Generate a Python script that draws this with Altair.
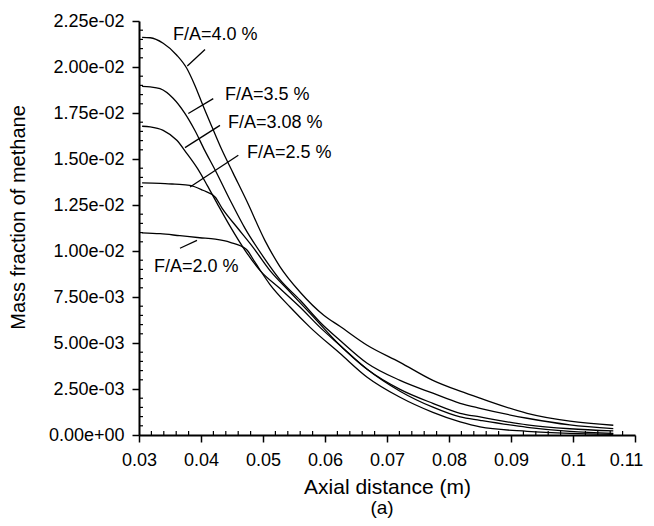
import altair as alt
import pandas as pd

# ---- curve data ----
x_40 = [0.0305, 0.0318, 0.0339, 0.0361, 0.0377, 0.0390, 0.0403, 0.0418, 0.0434, 0.0452, 0.0474, 0.0503,
        0.0527, 0.0560, 0.0598, 0.0624, 0.0668, 0.0721, 0.0774, 0.0818, 0.0850, 0.0926, 0.0995, 0.1065]
y_40 = [0.02161, 0.02159, 0.02129, 0.02064, 0.01993, 0.01901, 0.01792, 0.01672, 0.01547, 0.01422, 0.01270, 0.01058,
        0.00917, 0.00776, 0.00651, 0.00591, 0.00488, 0.00395, 0.00297, 0.00238, 0.00200, 0.00118, 0.00075, 0.00053]

x_35 = [0.0305, 0.0318, 0.0334, 0.0355, 0.0374, 0.0390, 0.0406, 0.0423, 0.0447, 0.0471, 0.0500, 0.0527,
        0.0560, 0.0592, 0.0624, 0.0668, 0.0721, 0.0774, 0.0818, 0.0850, 0.0926, 0.0995, 0.1065]
y_35 = [0.01895, 0.01892, 0.01882, 0.01830, 0.01748, 0.01656, 0.01547, 0.01439, 0.01276, 0.01123, 0.00971, 0.00846,
        0.00732, 0.00613, 0.00515, 0.00390, 0.00297, 0.00227, 0.00172, 0.00145, 0.00091, 0.00055, 0.00035]

x_308 = [0.0305, 0.0318, 0.0339, 0.0361, 0.0377, 0.0394, 0.0410, 0.0426, 0.0447, 0.0471, 0.0495, 0.0527,
         0.0560, 0.0592, 0.0624, 0.0668, 0.0721, 0.0774, 0.0818, 0.0850, 0.0926, 0.0995, 0.1065]
y_308 = [0.01678, 0.01675, 0.01656, 0.01602, 0.01531, 0.01450, 0.01357, 0.01259, 0.01134, 0.01004, 0.00895, 0.00797,
         0.00694, 0.00585, 0.00488, 0.00357, 0.00248, 0.00172, 0.00118, 0.00098, 0.00055, 0.00034, 0.00022]

x_25 = [0.0305, 0.0334, 0.0358, 0.0382, 0.0403, 0.0423, 0.0435, 0.0458, 0.0484, 0.0511, 0.0544, 0.0576,
        0.0624, 0.0668, 0.0721, 0.0774, 0.0818, 0.0850, 0.0926, 0.0995, 0.1065]
y_25 = [0.01370, 0.01368, 0.01363, 0.01357, 0.01330, 0.01292, 0.01227, 0.01129, 0.01020, 0.00895, 0.00776, 0.00661,
        0.00488, 0.00357, 0.00238, 0.00151, 0.00098, 0.00080, 0.00042, 0.00020, 0.00009]

x_20 = [0.0305, 0.0334, 0.0366, 0.0398, 0.0423, 0.0447, 0.0473, 0.0487, 0.0511, 0.0544, 0.0576, 0.0624,
        0.0668, 0.0721, 0.0774, 0.0818, 0.0850, 0.0926, 0.0995, 0.1065]
y_20 = [0.01099, 0.01094, 0.01083, 0.01072, 0.01064, 0.01047, 0.01009, 0.00939, 0.00819, 0.00694, 0.00585, 0.00444,
        0.00314, 0.00205, 0.00123, 0.00071, 0.00044, 0.00020, 0.00009, 0.00004]

# ---- annotations ----
label_text = ["F/A=4.0 %", "F/A=3.5 %", "F/A=3.08 %", "F/A=2.5 %", "F/A=2.0 %"]
label_x = [0.03548, 0.04387, 0.04435, 0.04742, 0.03242]
label_y = [0.02175, 0.01846, 0.01697, 0.01534, 0.00911]
leader_x1 = [0.03779, 0.03795, 0.03742, 0.03823, 0.03661]
leader_y1 = [0.02005, 0.01747, 0.01562, 0.01348, 0.01015]
leader_x2 = [0.04065, 0.04198, 0.04306, 0.04602, 0.03935]
leader_y2 = [0.02095, 0.01828, 0.01683, 0.01520, 0.01058]

x_ticks = [0.03, 0.04, 0.05, 0.06, 0.07, 0.08, 0.09, 0.10, 0.11]
y_ticks = [0.0, 0.0025, 0.005, 0.0075, 0.01, 0.0125, 0.015, 0.0175, 0.02, 0.0225]
x_minor = [round(0.03 + 0.002 * i, 4) for i in range(41) if i % 5 != 0]
y_minor = [round(0.0005 * i, 5) for i in range(46) if i % 5 != 0]

W, H = 496, 414

rows = []
for name, xs, ys in [("4.0", x_40, y_40), ("3.5", x_35, y_35), ("3.08", x_308, y_308),
                     ("2.5", x_25, y_25), ("2.0", x_20, y_20)]:
    for a, b in zip(xs, ys):
        rows.append({"series": name, "x": a, "y": b})
curves = pd.DataFrame(rows)

labels = pd.DataFrame({"text": label_text, "x": label_x, "y": label_y})
leaders = pd.DataFrame({"x": leader_x1, "y": leader_y1, "x2": leader_x2, "y2": leader_y2})
xminor_df = pd.DataFrame({"x": x_minor})
yminor_df = pd.DataFrame({"y": y_minor})

FONT = "Liberation Sans"

xscale = alt.Scale(domain=[0.03, 0.11], nice=False, zero=False)
yscale = alt.Scale(domain=[0, 0.0225], nice=False, zero=False)

xaxis = alt.Axis(values=x_ticks, format=".2~f", title="Axial distance (m)", grid=False,
                 labelFontSize=18, titleFontSize=21, titleFontWeight="normal", labelFont=FONT,
                 titleFont=FONT, labelColor="black", titleColor="black", domainColor="black",
                 domainWidth=2, tickColor="black", tickWidth=1.5, tickSize=7, labelPadding=9,
                 labelOffset={"condition": {"test": "datum.value > 0.105", "value": -9}, "value": 0},
                 titlePadding=7, labelFlush=False)
yaxis = alt.Axis(values=y_ticks,
                 labelExpr="replace(replace(format(datum.value, '.2e'), 'e-', 'e-0'), 'e+', 'e+0')",
                 title="Mass fraction of methane", grid=False,
                 labelFontSize=18, titleFontSize=20, titleFontWeight="normal", labelFont=FONT,
                 titleFont=FONT, labelColor="black", titleColor="black", domainColor="black",
                 domainWidth=2, tickColor="black", tickWidth=1.5, tickSize=7, labelPadding=8,
                 titlePadding=20, titleY=196, labelFlush=False)

lines = alt.Chart(curves).mark_line(color="black", strokeWidth=1.3, interpolate="monotone").encode(
    x=alt.X("x:Q", scale=xscale, axis=xaxis),
    y=alt.Y("y:Q", scale=yscale, axis=yaxis),
    detail="series:N",
)

text = alt.Chart(labels).mark_text(align="left", baseline="middle", fontSize=18, font=FONT,
                                   color="black").encode(
    x=alt.X("x:Q", scale=xscale), y=alt.Y("y:Q", scale=yscale), text="text:N")

lead = alt.Chart(leaders).mark_rule(color="black", strokeWidth=1.3).encode(
    x=alt.X("x:Q", scale=xscale), y=alt.Y("y:Q", scale=yscale),
    x2="x2:Q", y2="y2:Q")

xmin = alt.Chart(xminor_df).mark_rule(color="black", strokeWidth=1.2).encode(
    x=alt.X("x:Q", scale=xscale), y=alt.value(H), y2=alt.value(H - 4))
ymin = alt.Chart(yminor_df).mark_rule(color="black", strokeWidth=1.2).encode(
    y=alt.Y("y:Q", scale=yscale), x=alt.value(0), x2=alt.value(4))

caption = alt.Chart(pd.DataFrame({"t": ["(a)"]})).mark_text(
    fontSize=19, font=FONT, color="black", baseline="middle", align="center").encode(
    text="t:N", x=alt.value(243), y=alt.value(487))

chart = alt.layer(lines, lead, text, xmin, ymin, caption).properties(
    width=W, height=H,
    padding={"left": 131, "top": 13, "right": 11, "bottom": 83},
    autosize=alt.AutoSizeParams(type="none"),
).configure_view(stroke=None)

chart.save("out.html", embed_options={"renderer": "svg", "actions": False})
